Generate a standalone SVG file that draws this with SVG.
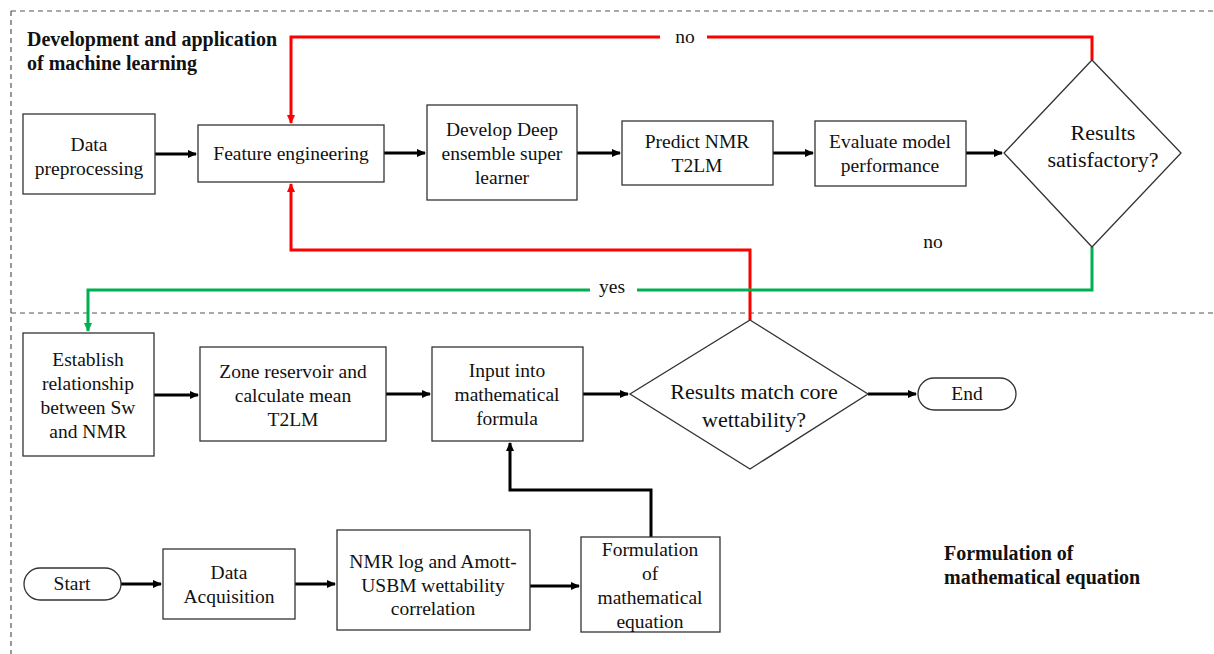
<svg xmlns="http://www.w3.org/2000/svg" width="1214" height="654" viewBox="0 0 1214 654">
<defs>
<style>
text{font-family:'Liberation Serif','Times New Roman',Times,'DejaVu Serif',serif}
.box{fill:#fff;stroke:#333;stroke-width:1.3}
.t{font-size:19.5px;fill:#111;text-anchor:middle}
.td{font-size:22px;fill:#111;text-anchor:middle}
.tb{font-size:20px;font-weight:bold;fill:#111}
.blk{fill:none;stroke:#000;stroke-width:3}
.red{fill:none;stroke:#FF0000;stroke-width:3}
.grn{fill:none;stroke:#00B050;stroke-width:3}
.dash{fill:none;stroke:#555;stroke-width:1.2;stroke-dasharray:5,4}
</style>
<marker id="ab" markerWidth="10" markerHeight="10" refX="8" refY="4" orient="auto" markerUnits="userSpaceOnUse"><path d="M0,0 L9,4 L0,8 z" fill="#000"/></marker>
<marker id="ar" markerWidth="10" markerHeight="10" refX="8" refY="4" orient="auto" markerUnits="userSpaceOnUse"><path d="M0,0 L9,4 L0,8 z" fill="#FF0000"/></marker>
<marker id="ag" markerWidth="10" markerHeight="10" refX="8" refY="4" orient="auto" markerUnits="userSpaceOnUse"><path d="M0,0 L9,4 L0,8 z" fill="#00B050"/></marker>
</defs>
<rect width="1214" height="654" fill="#fff"/>
<g id="regions">
<path class="dash" d="M11,11 H1214 M11,11 V654 M11,313 H1214"/>
<text class="tb" x="27" y="46">Development and application</text>
<text class="tb" x="27" y="70">of machine learning</text>
<text class="tb" x="944" y="560">Formulation of</text>
<text class="tb" x="944" y="584">mathematical equation</text>
</g>
<g id="connectors">
<path class="blk" d="M155,154 H196" marker-end="url(#ab)"/>
<path class="blk" d="M384,153 H425" marker-end="url(#ab)"/>
<path class="blk" d="M577,153 H620" marker-end="url(#ab)"/>
<path class="blk" d="M773,153 H813" marker-end="url(#ab)"/>
<path class="blk" d="M966,153 H1002" marker-end="url(#ab)"/>
<path class="red" d="M1092,60 V37 H707 M660,37 H291 V123" marker-end="url(#ar)"/>
<text class="t" x="685" y="43">no</text>
<path class="red" d="M750,320 V250 H291 V184" marker-end="url(#ar)"/>
<text class="t" x="933" y="248">no</text>
<path class="grn" d="M1092,247 V290 H637 M590,290 H88 V331" marker-end="url(#ag)"/>
<text class="t" x="612" y="293">yes</text>
<path class="blk" d="M154,395 H198" marker-end="url(#ab)"/>
<path class="blk" d="M386,394 H430" marker-end="url(#ab)"/>
<path class="blk" d="M583,394 H628" marker-end="url(#ab)"/>
<path class="blk" d="M868,394 H916" marker-end="url(#ab)"/>
<path class="blk" d="M121,584 H161" marker-end="url(#ab)"/>
<path class="blk" d="M295,584 H335" marker-end="url(#ab)"/>
<path class="blk" d="M530,586 H579" marker-end="url(#ab)"/>
<path class="blk" d="M651,537 V490 H510 V443" marker-end="url(#ab)"/>
</g>
<g id="n-preproc"><rect class="box" x="23" y="114" width="132" height="80"/><text class="t" x="89" y="151">Data</text><text class="t" x="89" y="175">preprocessing</text></g>
<g id="n-feature"><rect class="box" x="198" y="125" width="186" height="57"/><text class="t" x="291" y="160">Feature engineering</text></g>
<g id="n-develop"><rect class="box" x="427" y="105" width="150" height="95"/><text class="t" x="502" y="136">Develop Deep</text><text class="t" x="502" y="160">ensemble super</text><text class="t" x="502" y="184">learner</text></g>
<g id="n-predict"><rect class="box" x="622" y="121" width="151" height="64"/><text class="t" x="697" y="148">Predict NMR</text><text class="t" x="697" y="172">T2LM</text></g>
<g id="n-evaluate"><rect class="box" x="815" y="121" width="151" height="65"/><text class="t" x="890" y="148">Evaluate model</text><text class="t" x="890" y="172">performance</text></g>
<g id="n-satisfactory"><polygon class="box" points="1092,60 1181,153 1092,247 1004,153"/><text class="td" x="1103" y="140">Results</text><text class="td" x="1103" y="167">satisfactory?</text></g>
<g id="n-establish"><rect class="box" x="23" y="333" width="131" height="123"/><text class="t" x="88" y="366">Establish</text><text class="t" x="88" y="390">relationship</text><text class="t" x="88" y="414">between Sw</text><text class="t" x="88" y="438">and NMR</text></g>
<g id="n-zone"><rect class="box" x="200" y="347" width="186" height="94"/><text class="t" x="293" y="378">Zone reservoir and</text><text class="t" x="293" y="402">calculate mean</text><text class="t" x="293" y="426">T2LM</text></g>
<g id="n-input"><rect class="box" x="432" y="347" width="151" height="94"/><text class="t" x="507" y="377">Input into</text><text class="t" x="507" y="401">mathematical</text><text class="t" x="507" y="425">formula</text></g>
<g id="n-match"><polygon class="box" points="750,320 868,394 750,469 630,394"/><text class="td" x="754" y="399">Results match core</text><text class="td" x="754" y="427">wettability?</text></g>
<g id="n-end"><rect class="box" x="918" y="378" width="98" height="32" rx="16"/><text class="t" x="967" y="400">End</text></g>
<g id="n-start"><rect class="box" x="24" y="568" width="97" height="32" rx="16"/><text class="t" x="72" y="590">Start</text></g>
<g id="n-acq"><rect class="box" x="163" y="549" width="132" height="70"/><text class="t" x="229" y="579">Data</text><text class="t" x="229" y="603">Acquisition</text></g>
<g id="n-nmr"><rect class="box" x="337" y="530" width="193" height="100"/><text class="t" x="433" y="568">NMR log and Amott-</text><text class="t" x="433" y="592">USBM wettability</text><text class="t" x="433" y="615">correlation</text></g>
<g id="n-formulation"><rect class="box" x="581" y="537" width="139" height="95"/><text class="t" x="650" y="556">Formulation</text><text class="t" x="650" y="580">of</text><text class="t" x="650" y="604">mathematical</text><text class="t" x="650" y="628">equation</text></g>
</svg>
